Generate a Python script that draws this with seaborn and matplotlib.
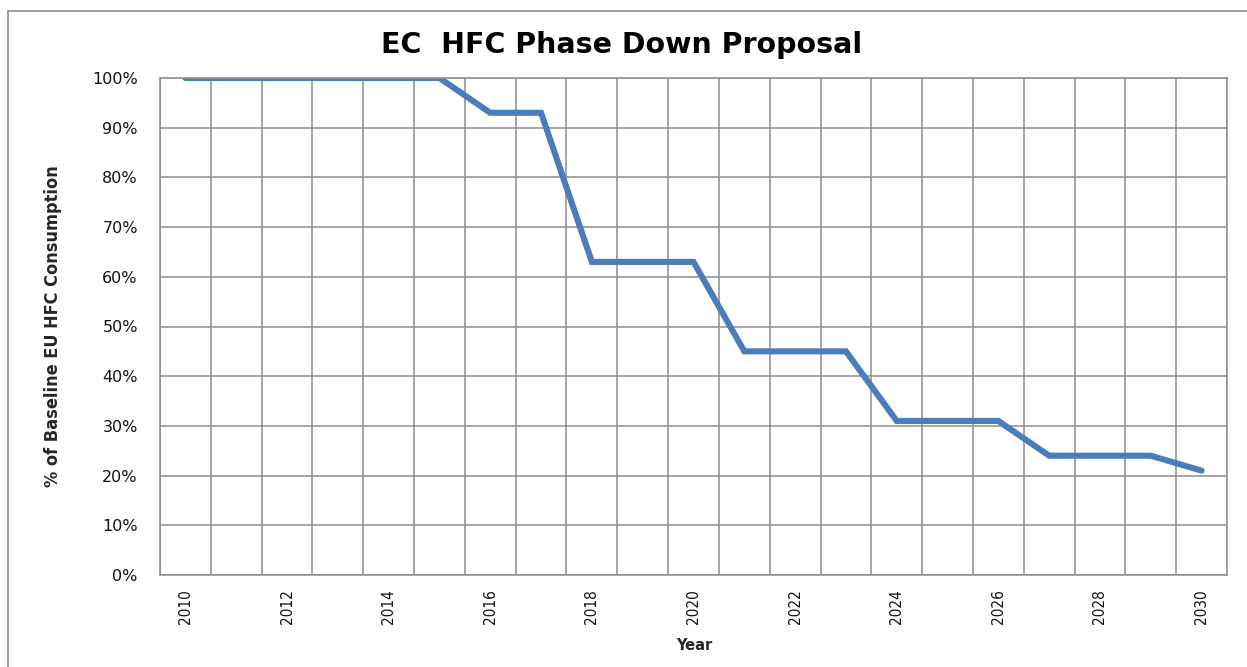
import matplotlib
matplotlib.use("Agg")
import matplotlib.pyplot as plt
import seaborn as sns
import pandas as pd
from matplotlib.lines import Line2D
from matplotlib.ticker import FixedLocator, FuncFormatter

years = list(range(2010, 2031))
values = [100, 100, 100, 100, 100, 100, 93, 93, 63, 63, 63, 45, 45, 45, 31, 31, 31, 24, 24, 24, 21]
y_ticks = [0, 10, 20, 30, 40, 50, 60, 70, 80, 90, 100]
x_tick_years = list(range(2010, 2031, 2))

title = "EC  HFC Phase Down Proposal"
x_label = "Year"
y_label = "% of Baseline EU HFC Consumption"

sns.set_theme(style="white")
plt.rcParams['font.family'] = ['DejaVu Sans']

df = pd.DataFrame({"year": years, "value": values})

fig = plt.figure(figsize=(12.47, 6.67), dpi=100)
ax = fig.add_axes([160/1247, 1-575/667, (1227-160)/1247, (575-78)/667])

grid_c = "#8c8c8c"
sns.lineplot(data=df, x="year", y="value", ax=ax, color="#4a7ebb", linewidth=4.4,
             solid_joinstyle="miter", solid_capstyle="round")

ax.set_xlim(2009.5, 2030.5)
ax.set_ylim(0, 100)

bounds = [y - 0.5 for y in years] + [years[-1] + 0.5]
ax.xaxis.set_minor_locator(FixedLocator(bounds))
ax.set_xticks(x_tick_years)
ax.set_xticklabels([str(y) for y in x_tick_years], rotation=90, fontsize=11,
                   fontstretch="condensed", color="#111111")
ax.tick_params(axis="x", which="major", length=0, pad=10)
ax.tick_params(axis="x", which="minor", length=4, width=1, color=grid_c, direction="out")
ax.grid(True, axis="x", which="minor", color=grid_c, linewidth=1.1)
ax.grid(False, axis="x", which="major")

ax.set_yticks(y_ticks)
ax.yaxis.set_major_formatter(FuncFormatter(lambda v, p: f"{int(v)}%"))
ax.tick_params(axis="y", which="major", length=5, width=1, color=grid_c, direction="out", pad=11,
               labelsize=11.5, labelcolor="#111111")
ax.grid(True, axis="y", which="major", color=grid_c, linewidth=1.1)
ax.set_axisbelow(True)

for s in ax.spines.values():
    s.set_color(grid_c)
    s.set_linewidth(1.1)

ax.set_xlabel(x_label, fontsize=10.5, fontweight="bold")
ax.set_ylabel(y_label, fontsize=13, fontweight="bold", fontstretch="condensed")
ax.yaxis.set_label_coords(-(160-53)/(1227-160), 0.5)
ax.xaxis.set_label_coords((694-160)/(1227-160), -(646-575)/(575-78))
ax.xaxis.label.set_va("center")
ax.yaxis.label.set_va("center")

fig.text(622/1247, 1-45/667, title, ha="center", va="center", fontsize=20.5, fontweight="bold",
         color="#000000")

# outer chart frame (top and left edges visible in the reference)
fig.add_artist(Line2D([8/1247, 8/1247], [0, 1-11/667], transform=fig.transFigure, color="#8c8c8c", linewidth=1.2))
fig.add_artist(Line2D([8/1247, 1], [1-11/667, 1-11/667], transform=fig.transFigure, color="#8c8c8c", linewidth=1.2))

fig.savefig("out.png", dpi=100)
